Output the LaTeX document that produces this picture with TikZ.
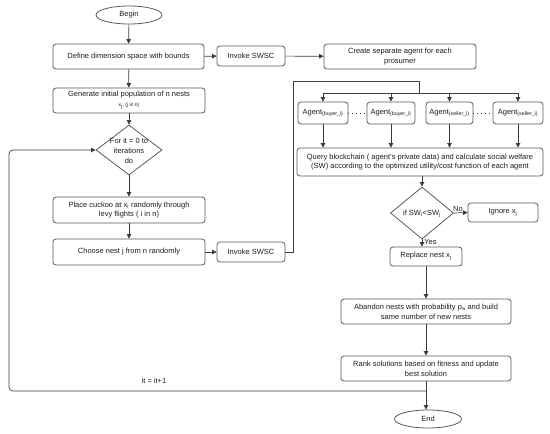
\documentclass[tikz,border=0pt]{standalone}
\usepackage{fontspec}
\setmainfont{Liberation Sans}
\usetikzlibrary{shapes.geometric,arrows.meta}
\definecolor{bordc}{HTML}{5A5A5A}
\definecolor{linec}{HTML}{3C3C3C}
\definecolor{txtc}{HTML}{1E1E1E}
\begin{document}
\begin{tikzpicture}[x=1pt,y=-1pt,
  every node/.style={font=\fontsize{7.5}{9.8}\selectfont, text=txtc},
  box/.style={draw=bordc, line width=0.8pt, rounded corners=3pt, align=center, inner sep=1pt},
  oval/.style={draw=bordc, line width=0.8pt, ellipse, inner sep=0pt},
  dia/.style={draw=bordc, line width=0.8pt, diamond, inner sep=0pt},
  arr/.style={draw=linec, line width=0.7pt, -{Triangle[length=4.5pt,width=4.5pt]}},
  ln/.style={draw=linec, line width=0.7pt}
]
\useasboundingbox (0,0) rectangle (550,434);
\fill[white] (0,0) rectangle (550,434);

\node[oval, minimum width=66pt, minimum height=18pt] (begin) at (129,15) {Begin};
\node[box, minimum width=151pt, minimum height=25pt] (define) at (128.5,56.5) {Define dimension space with bounds};
\node[box, minimum width=68pt, minimum height=20pt] (swsc1) at (251,56) {Invoke SWSC};
\node[box, minimum width=152pt, minimum height=25pt] (create) at (400,56.5) {Create separate agent for each\\prosumer};
\node[box, minimum width=152pt, minimum height=25pt] (generate) at (129,100.5) {Generate initial population of n nests\\{\fontsize{5}{6}\selectfont x\textsubscript{j}, (j in n)}};
\node[dia, minimum width=66pt, minimum height=50pt] (d1) at (129,150) {};
\node[align=center, inner sep=0pt] (d1t) at (129,151) {For it = 0 to\\iterations\\do};
\node[box, minimum width=152pt, minimum height=26pt] (place) at (129,210) {Place cuckoo at x\textsubscript{i} randomly through\\levy flights ( i in n)};
\node[box, minimum width=152pt, minimum height=26pt] (choose) at (129,252) {Choose nest j from n randomly};
\node[box, minimum width=68pt, minimum height=20pt] (swsc2) at (251,252) {Invoke SWSC};

\node[box, minimum width=50pt, minimum height=22pt, inner sep=0pt] (a1) at (323,113) {Agent\textsubscript{(buyer\_i)}};
\node[box, minimum width=48pt, minimum height=22pt, inner sep=0pt] (a2) at (391,113) {Agent\textsubscript{(buyer\_i)}};
\node[box, minimum width=47pt, minimum height=22pt, inner sep=0pt] (a3) at (449.5,113) {Agent\textsubscript{(seller\_i)}};
\node[box, minimum width=50pt, minimum height=22pt, inner sep=0pt] (a4) at (518,113) {Agent\textsubscript{(seller\_i)}};

\node[box, minimum width=246pt, minimum height=28pt] (query) at (420,162) {Query blockchain ( agent's private data) and calculate social welfare\\(SW) according to the optimized utility/cost function of each agent};
\node[dia, minimum width=63pt, minimum height=52pt] (d2) at (422,213) {};
\node[inner sep=0pt] (d2t) at (422,214) {if SW\textsubscript{i}<SW\textsubscript{j}};
\node[box, minimum width=70pt, minimum height=19pt] (ignore) at (503,212.5) {Ignore x\textsubscript{j}};
\node[box, minimum width=72pt, minimum height=19pt] (replace) at (426,256.5) {Replace nest x\textsubscript{j}};
\node[box, minimum width=170pt, minimum height=25pt] (abandon) at (426,311.5) {Abandon nests with probability p\textsubscript{a} and build\\same number of new nests};
\node[box, minimum width=170pt, minimum height=25pt] (rank) at (426,368.5) {Rank solutions based on fitness and update\\best solution};
\node[oval, minimum width=67pt, minimum height=18pt] (end) at (428,419) {End};

% connectors
\draw[arr] (begin) -- (define);
\draw[arr] (define) -- (swsc1);
\draw[arr] (swsc1) -- (create);
\draw[arr] (define) -- (generate);
\draw[arr] (generate) -- (d1);
\draw[arr] (d1) -- (place);
\draw[arr] (place) -- (choose);
\draw[arr] (choose) -- (swsc2);

\coordinate (up1) at (293,81);
\coordinate (up2) at (419,81);
\coordinate (bus) at (419,93);
\coordinate (busL) at (a1.north |- bus);
\coordinate (busR) at (a4.north |- bus);
\draw[ln] (swsc2.east) -| (up1) -- (up2) -- (bus);
\draw[ln] (busL) -- (busR);
\foreach \a in {a1,a2,a3,a4} {
  \draw[arr] (\a.north |- bus) -- (\a.north);
  \draw[arr] (\a.south) -- (\a.south |- query.north);
}
\draw[ln, line width=1pt, dash pattern=on 1pt off 3pt] (a1.east) -- (a2.west);
\draw[ln, line width=1pt, dash pattern=on 1pt off 3pt] (a3.east) -- (a4.west);

\draw[arr] (query.south -| d2.north) -- (d2.north);
\draw[arr] (d2.east) -- node[above, pos=0.3, inner sep=1pt] (no) {No} (ignore.west);
\draw[arr] (d2.south) -- node[right, pos=0.3, inner sep=2pt] (yes) {Yes} (d2.south |- replace.north);
\draw[arr] (replace.south) -- (abandon.north);
\draw[arr] (abandon.south) -- (rank.north);
\draw[arr] (rank.south) -- (rank.south |- end.north);

\coordinate (lp0) at (426,391);
\coordinate (lp1) at (9,391);
\coordinate (lp2) at (9,150);
\draw[arr, rounded corners=4pt] (lp0) -- (lp1) -- (lp2) -- (d1.west);
\node (inc) at (154,381) {it = it+1};
\end{tikzpicture}
\end{document}
